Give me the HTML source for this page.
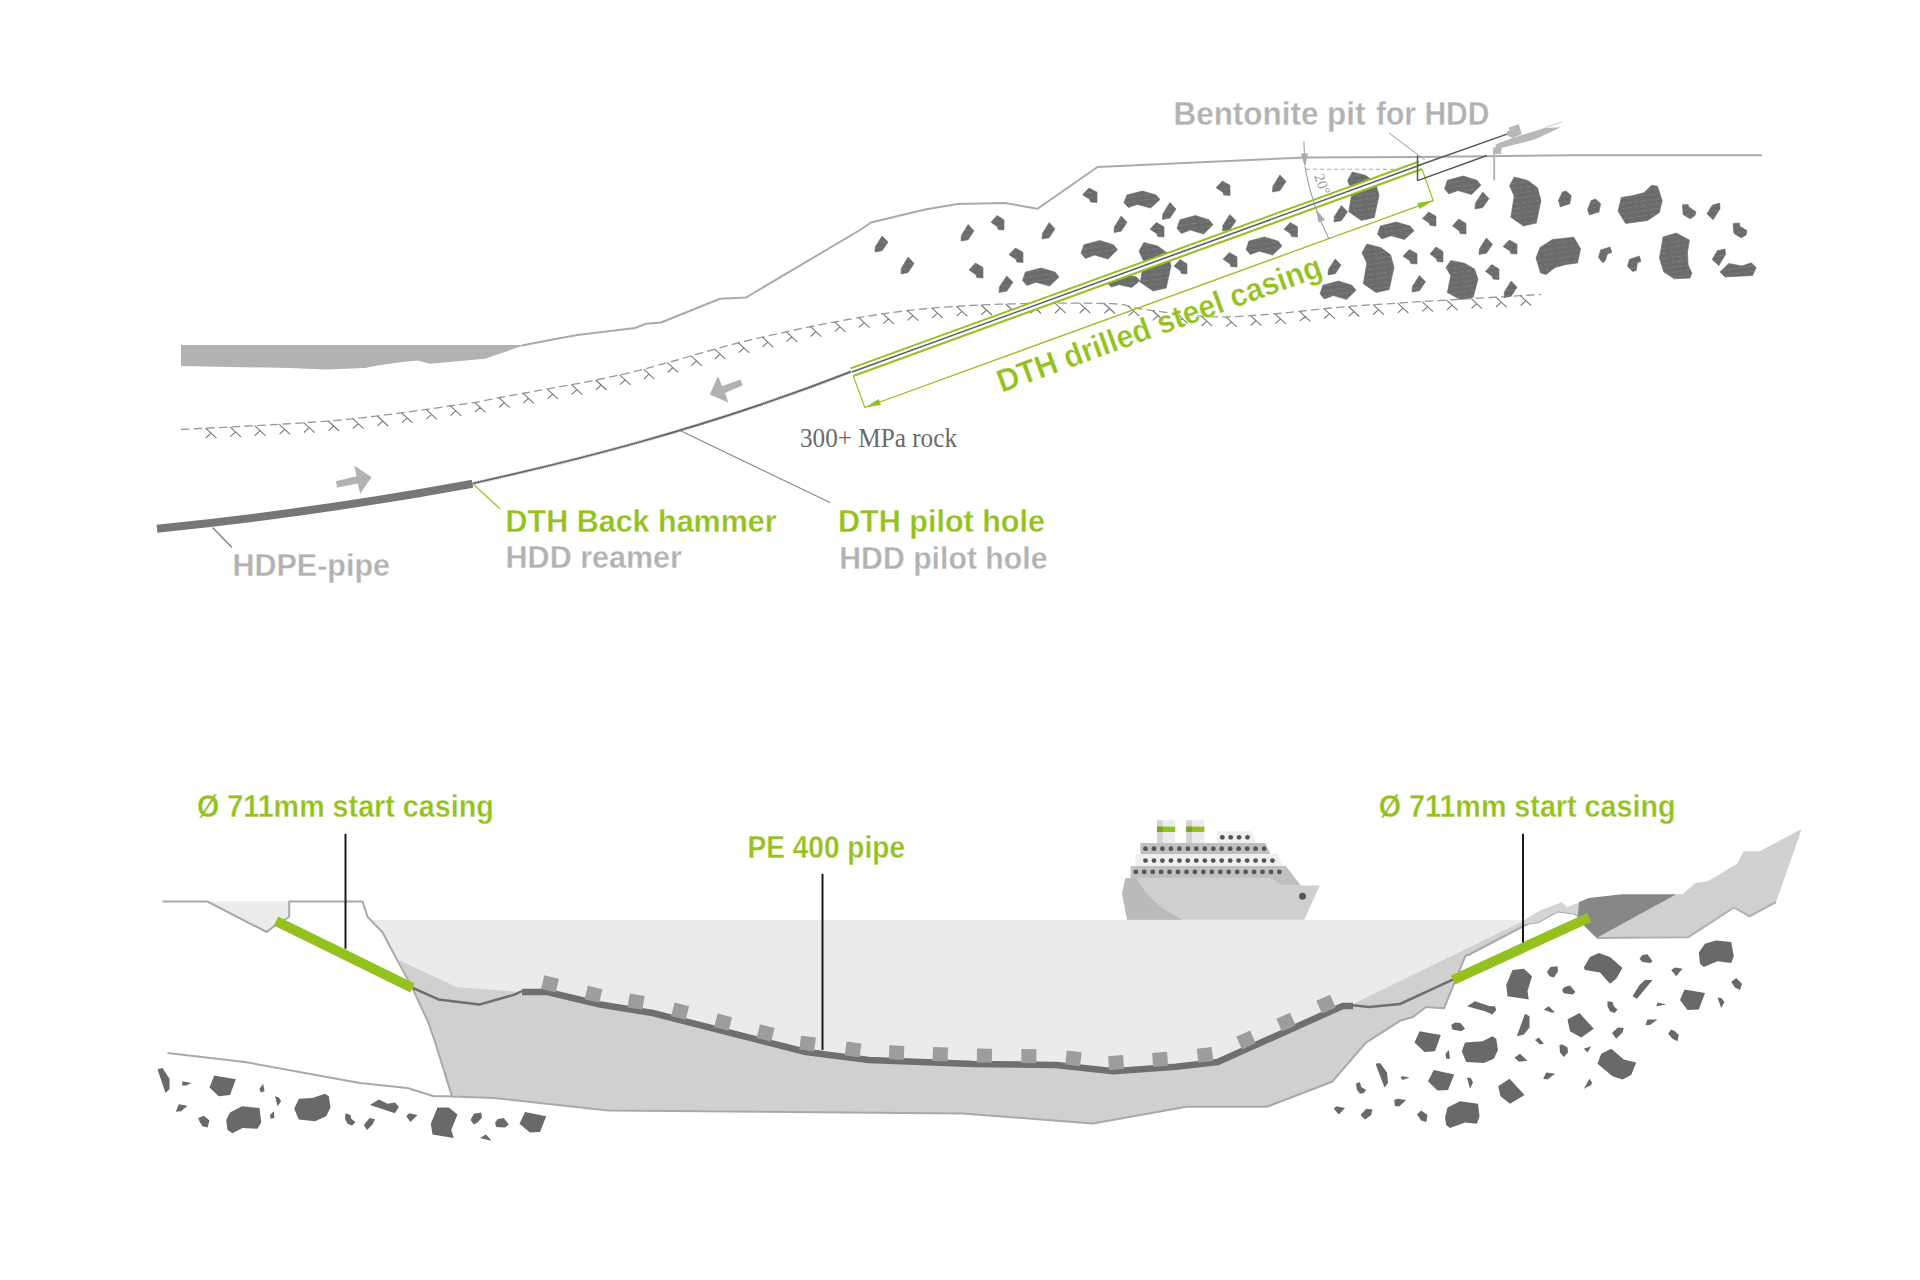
<!DOCTYPE html>
<html><head><meta charset="utf-8"><style>
html,body{margin:0;padding:0;background:#fff;}
svg{display:block;}
</style></head><body>
<svg width="1920" height="1280" viewBox="0 0 1920 1280">
<rect width="1920" height="1280" fill="#fff"/>
<polygon points="181.0,345.0 525.0,345.0 485.0,358.8 430.0,363.8 417.5,360.5 402.5,362.0 377.5,365.5 365.0,368.0 325.0,369.5 290.0,368.0 181.0,366.0" fill="#b2b2b2" />
<polyline points="522.0,345.5 550.0,340.0 577.5,335.0 635.0,328.0 646.0,323.8 661.0,322.5 720.0,298.8 746.0,297.5 860.0,230.0 871.0,222.5 925.0,209.5 957.5,204.0 1005.0,203.0 1037.5,208.8 1097.5,167.0 1305.0,157.5 1418.0,157.0 1570.0,155.3 1762.0,155.3" fill="none" stroke="#aaaaaa" stroke-width="2" stroke-linejoin="round" />
<polyline points="181.0,429.5 188.8,429.1 198.7,428.5 210.4,428.0 223.5,427.3 237.7,426.6 252.7,425.8 268.1,424.9 283.6,424.0 298.9,423.1 313.6,422.1 327.4,421.1 340.0,420.0 351.9,418.9 363.8,417.6 375.8,416.2 387.5,414.7 399.1,413.2 410.2,411.7 421.0,410.2 431.3,408.7 440.9,407.3 449.8,406.0 457.8,404.8 465.0,403.8 470.8,402.9 475.0,402.3 478.0,401.9 480.0,401.6 481.4,401.3 482.5,401.1 483.6,400.8 485.0,400.5 487.0,400.1 490.0,399.4 494.2,398.6 500.0,397.5 507.3,396.2 515.6,394.7 524.9,393.0 535.0,391.2 545.7,389.4 556.9,387.3 568.4,385.2 580.0,383.1 591.6,380.8 603.1,378.5 614.3,376.1 625.0,373.8 635.4,371.3 645.8,368.6 656.2,365.8 666.7,362.9 677.1,360.0 687.5,357.0 697.9,353.9 708.3,351.0 718.8,348.1 729.2,345.2 739.6,342.5 750.0,340.0 760.5,337.6 771.1,335.2 781.7,332.8 792.4,330.5 803.1,328.2 813.8,326.0 824.3,323.9 834.8,321.9 845.2,320.0 855.3,318.2 865.3,316.5 875.0,315.0 884.4,313.6 893.4,312.4 902.2,311.2 910.7,310.2 919.1,309.3 927.4,308.5 935.8,307.8 944.2,307.1 952.7,306.6 961.5,306.0 970.6,305.5 980.0,305.0 990.1,304.6 1000.8,304.2 1012.2,303.9 1023.8,303.6 1035.6,303.4 1047.4,303.3 1058.9,303.2 1070.0,303.2 1080.4,303.2 1090.0,303.2 1098.6,303.4 1106.0,303.5 1112.0,303.7 1116.7,304.0 1120.4,304.3 1123.1,304.7 1125.3,305.2 1127.1,305.7 1128.6,306.2 1130.2,306.7 1132.0,307.3 1134.3,307.9 1137.2,308.4 1141.0,309.0 1145.6,309.6 1150.6,310.3 1156.0,311.0 1161.7,311.8 1167.7,312.6 1173.8,313.4 1180.0,314.1 1186.2,314.8 1192.4,315.5 1198.5,316.0 1204.4,316.4 1210.0,316.7 1215.4,316.9 1220.5,316.9 1225.5,316.9 1230.4,316.8 1235.2,316.6 1240.1,316.4 1245.0,316.1 1250.1,315.7 1255.3,315.3 1260.7,314.9 1266.4,314.5 1272.5,314.0 1278.6,313.5 1284.6,313.0 1290.4,312.4 1296.4,311.7 1302.5,311.0 1308.8,310.3 1315.6,309.6 1323.0,308.8 1331.0,308.0 1339.7,307.2 1349.4,306.4 1360.0,305.6 1372.4,304.7 1386.9,303.8 1402.9,302.8 1420.1,301.7 1438.0,300.6 1456.0,299.5 1473.7,298.5 1490.6,297.5 1506.3,296.6 1520.2,295.7 1532.0,295.0 1541.0,294.5" fill="none" stroke="#9a9a9a" stroke-width="1.3" stroke-linejoin="round" stroke-dasharray="8.5 4.2"/>
<defs><pattern id="rt" width="14" height="5" patternUnits="userSpaceOnUse" patternTransform="rotate(-8)"><path d="M0,2.5h6M8.5,2.5h4" stroke="#868787" stroke-width="0.6"/></pattern></defs><g fill="#6a6b6b" stroke="#6a6b6b" stroke-width="0.6"><polygon points="875.0,252.0 875.4,246.6 882.1,236.0 888.0,242.1 882.1,250.7"/><polygon points="901.0,274.0 901.4,268.2 908.1,257.0 914.0,263.5 908.1,272.6"/><polygon points="961.0,241.0 961.4,235.4 968.1,224.5 974.0,230.8 968.1,239.7"/><polygon points="991.0,222.2 997.0,215.5 1004.0,219.8 1004.0,230.0 998.3,229.6 997.4,226.8"/><polygon points="969.0,269.9 975.4,263.0 983.0,267.5 983.0,278.0 976.8,277.6 975.9,274.7"/><polygon points="1009.0,254.7 1015.4,248.0 1023.0,252.3 1023.0,262.5 1016.8,262.1 1015.9,259.3"/><polygon points="999.0,292.5 999.4,286.9 1006.7,276.0 1013.0,282.3 1006.7,291.2"/><polygon points="1022.5,280.4 1025.4,272.1 1041.1,268.0 1055.0,272.1 1059.0,277.0 1049.5,286.0 1036.0,282.2 1026.9,285.5"/><polygon points="1042.0,239.0 1042.4,233.4 1049.2,222.5 1055.0,228.8 1049.2,237.7"/><polygon points="1081.0,253.3 1083.9,244.8 1099.6,240.5 1113.5,244.8 1117.5,249.8 1108.0,259.0 1094.5,255.1 1085.4,258.4"/><polygon points="1082.5,194.7 1089.2,188.0 1097.0,192.3 1097.0,202.5 1090.6,202.1 1089.6,199.3"/><polygon points="1114.0,232.5 1114.4,226.9 1121.2,216.0 1127.0,222.3 1121.2,231.2"/><polygon points="1124.0,202.7 1126.9,194.9 1142.4,191.0 1156.0,194.9 1160.0,199.5 1150.6,208.0 1137.3,204.4 1128.3,207.5"/><polygon points="1107.5,283.3 1110.1,277.1 1124.1,274.0 1136.4,277.1 1140.0,280.8 1131.5,287.5 1119.5,284.7 1111.4,287.1"/><polygon points="1143.8,242.5 1157.6,245.9 1167.5,253.2 1171.0,265.8 1166.2,288.1 1153.1,291.0 1140.3,282.3 1143.8,261.4 1139.0,251.2"/><polygon points="1150.0,229.2 1156.4,222.5 1164.0,226.8 1164.0,237.0 1157.8,236.6 1156.9,233.8"/><polygon points="1162.5,219.5 1162.9,213.7 1169.9,202.5 1176.0,209.0 1169.9,218.1"/><polygon points="1174.0,266.2 1180.0,259.5 1187.0,263.9 1187.0,274.0 1181.3,273.6 1180.4,270.8"/><polygon points="1177.0,228.3 1179.9,219.8 1195.4,215.5 1209.0,219.8 1213.0,224.8 1203.6,234.0 1190.3,230.1 1181.3,233.4"/><polygon points="1216.0,187.7 1222.4,181.0 1230.0,185.3 1230.0,195.5 1223.8,195.1 1222.9,192.3"/><polygon points="1222.5,231.0 1222.9,225.4 1229.9,214.5 1236.0,220.8 1229.9,229.7"/><polygon points="1223.0,259.2 1229.4,252.5 1237.0,256.9 1237.0,267.0 1230.8,266.6 1229.9,263.8"/><polygon points="1246.0,249.4 1248.9,241.1 1264.4,237.0 1278.0,241.1 1282.0,246.0 1272.6,255.0 1259.3,251.2 1250.3,254.5"/><polygon points="1272.5,192.0 1272.9,186.2 1279.9,175.0 1286.0,181.5 1279.9,190.6"/><polygon points="1284.0,229.2 1290.2,222.5 1297.5,226.8 1297.5,237.0 1291.6,236.6 1290.6,233.8"/><polygon points="1352.2,172.0 1365.8,175.4 1375.5,182.7 1379.0,195.3 1374.3,217.6 1361.4,220.5 1348.8,211.8 1352.2,190.9 1347.5,180.7"/><polygon points="1334.0,222.0 1334.4,216.4 1341.4,205.5 1347.5,211.8 1341.4,220.7"/><polygon points="1444.5,188.8 1447.4,180.3 1463.1,176.0 1477.0,180.3 1481.0,185.2 1471.5,194.5 1458.0,190.6 1448.9,193.9"/><polygon points="1475.0,209.0 1475.4,203.2 1482.7,192.0 1489.0,198.5 1482.7,207.6"/><polygon points="1514.2,177.0 1527.8,180.4 1537.5,187.8 1541.0,200.5 1536.3,223.1 1523.4,226.0 1510.8,217.2 1514.2,196.1 1509.5,185.8"/><polygon points="1558.1,201.2 1562.5,191.9 1566.2,191.0 1571.2,195.6 1569.8,203.8 1560.0,206.9 1559.4,202.5"/><polygon points="1587.5,209.4 1591.2,200.6 1595.6,199.0 1600.6,203.8 1599.0,211.9 1589.4,215.0"/><polygon points="1618.1,211.2 1621.2,197.5 1633.1,195.6 1643.8,192.8 1651.9,185.2 1657.5,186.2 1662.2,200.6 1659.4,212.5 1647.5,220.6 1625.6,223.5"/><polygon points="1682.5,204.8 1688.1,204.4 1688.8,206.9 1696.0,211.9 1695.0,215.6 1690.0,218.8 1683.1,214.4"/><polygon points="1706.9,213.8 1712.5,205.0 1719.8,203.1 1720.0,208.8 1713.1,219.8"/><polygon points="1733.1,223.5 1739.4,223.1 1739.8,226.2 1746.9,230.6 1746.2,235.0 1741.2,237.8 1734.0,233.5"/><polygon points="1422.5,218.4 1428.7,212.0 1436.0,216.2 1436.0,226.0 1430.1,225.6 1429.1,222.9"/><polygon points="1452.5,225.9 1458.7,219.0 1466.0,223.5 1466.0,234.0 1460.1,233.6 1459.1,230.7"/><polygon points="1377.5,234.1 1380.4,226.0 1396.1,222.0 1410.0,226.0 1414.0,230.8 1404.5,239.5 1391.0,235.8 1381.9,239.0"/><polygon points="1328.0,275.0 1328.4,269.6 1335.2,259.0 1341.0,265.1 1335.2,273.7"/><polygon points="1366.8,244.0 1380.6,247.4 1390.5,254.7 1394.0,267.3 1389.2,289.6 1376.1,292.5 1363.3,283.8 1366.8,262.9 1362.0,252.7"/><polygon points="1320.0,293.8 1322.9,285.3 1338.4,281.0 1352.0,285.3 1356.0,290.2 1346.6,299.5 1333.3,295.6 1324.3,298.9"/><polygon points="1403.0,256.2 1409.4,249.5 1417.0,253.8 1417.0,264.0 1410.8,263.6 1409.9,260.8"/><polygon points="1412.0,292.0 1412.4,286.4 1419.4,275.5 1425.5,281.8 1419.4,290.7"/><polygon points="1430.0,253.9 1436.0,247.0 1443.0,251.5 1443.0,262.0 1437.3,261.6 1436.4,258.7"/><polygon points="1479.0,254.5 1479.4,248.9 1486.4,238.0 1492.5,244.3 1486.4,253.2"/><polygon points="1503.0,246.4 1509.4,240.0 1517.0,244.2 1517.0,254.0 1510.8,253.6 1509.9,250.9"/><polygon points="1450.8,260.5 1464.6,263.2 1474.5,269.1 1478.0,279.2 1473.2,297.2 1460.1,299.5 1447.3,292.5 1450.8,275.7 1446.0,267.5"/><polygon points="1485.5,271.4 1491.7,264.5 1499.0,269.0 1499.0,279.5 1493.1,279.1 1492.1,276.2"/><polygon points="1504.0,297.5 1504.4,291.9 1511.2,281.0 1517.0,287.3 1511.2,296.2"/><polygon points="1536.0,258.0 1540.0,247.5 1552.5,239.4 1573.8,237.2 1580.6,248.8 1577.5,263.1 1566.2,264.4 1555.0,267.5 1546.2,274.4 1540.6,273.1"/><polygon points="1598.5,257.5 1600.6,250.0 1610.0,246.9 1611.9,252.5 1607.5,253.8 1605.0,261.2 1602.5,262.5"/><polygon points="1627.5,266.2 1629.4,259.4 1639.4,256.0 1641.0,261.5 1637.5,262.5 1636.2,270.6 1632.5,271.5"/><polygon points="1663.1,236.9 1676.2,233.1 1689.4,240.0 1687.5,252.5 1688.1,265.0 1691.9,273.1 1690.0,278.1 1674.4,278.8 1663.8,271.9 1659.4,258.1"/><polygon points="1712.2,259.4 1717.5,250.6 1725.0,249.0 1725.6,254.4 1718.8,265.6"/><polygon points="1720.0,271.9 1728.8,263.5 1741.9,266.0 1751.2,262.8 1756.2,267.5 1752.5,275.6 1725.0,276.9"/></g><g fill="url(#rt)"><polygon points="875.0,252.0 875.4,246.6 882.1,236.0 888.0,242.1 882.1,250.7"/><polygon points="901.0,274.0 901.4,268.2 908.1,257.0 914.0,263.5 908.1,272.6"/><polygon points="961.0,241.0 961.4,235.4 968.1,224.5 974.0,230.8 968.1,239.7"/><polygon points="991.0,222.2 997.0,215.5 1004.0,219.8 1004.0,230.0 998.3,229.6 997.4,226.8"/><polygon points="969.0,269.9 975.4,263.0 983.0,267.5 983.0,278.0 976.8,277.6 975.9,274.7"/><polygon points="1009.0,254.7 1015.4,248.0 1023.0,252.3 1023.0,262.5 1016.8,262.1 1015.9,259.3"/><polygon points="999.0,292.5 999.4,286.9 1006.7,276.0 1013.0,282.3 1006.7,291.2"/><polygon points="1022.5,280.4 1025.4,272.1 1041.1,268.0 1055.0,272.1 1059.0,277.0 1049.5,286.0 1036.0,282.2 1026.9,285.5"/><polygon points="1042.0,239.0 1042.4,233.4 1049.2,222.5 1055.0,228.8 1049.2,237.7"/><polygon points="1081.0,253.3 1083.9,244.8 1099.6,240.5 1113.5,244.8 1117.5,249.8 1108.0,259.0 1094.5,255.1 1085.4,258.4"/><polygon points="1082.5,194.7 1089.2,188.0 1097.0,192.3 1097.0,202.5 1090.6,202.1 1089.6,199.3"/><polygon points="1114.0,232.5 1114.4,226.9 1121.2,216.0 1127.0,222.3 1121.2,231.2"/><polygon points="1124.0,202.7 1126.9,194.9 1142.4,191.0 1156.0,194.9 1160.0,199.5 1150.6,208.0 1137.3,204.4 1128.3,207.5"/><polygon points="1107.5,283.3 1110.1,277.1 1124.1,274.0 1136.4,277.1 1140.0,280.8 1131.5,287.5 1119.5,284.7 1111.4,287.1"/><polygon points="1143.8,242.5 1157.6,245.9 1167.5,253.2 1171.0,265.8 1166.2,288.1 1153.1,291.0 1140.3,282.3 1143.8,261.4 1139.0,251.2"/><polygon points="1150.0,229.2 1156.4,222.5 1164.0,226.8 1164.0,237.0 1157.8,236.6 1156.9,233.8"/><polygon points="1162.5,219.5 1162.9,213.7 1169.9,202.5 1176.0,209.0 1169.9,218.1"/><polygon points="1174.0,266.2 1180.0,259.5 1187.0,263.9 1187.0,274.0 1181.3,273.6 1180.4,270.8"/><polygon points="1177.0,228.3 1179.9,219.8 1195.4,215.5 1209.0,219.8 1213.0,224.8 1203.6,234.0 1190.3,230.1 1181.3,233.4"/><polygon points="1216.0,187.7 1222.4,181.0 1230.0,185.3 1230.0,195.5 1223.8,195.1 1222.9,192.3"/><polygon points="1222.5,231.0 1222.9,225.4 1229.9,214.5 1236.0,220.8 1229.9,229.7"/><polygon points="1223.0,259.2 1229.4,252.5 1237.0,256.9 1237.0,267.0 1230.8,266.6 1229.9,263.8"/><polygon points="1246.0,249.4 1248.9,241.1 1264.4,237.0 1278.0,241.1 1282.0,246.0 1272.6,255.0 1259.3,251.2 1250.3,254.5"/><polygon points="1272.5,192.0 1272.9,186.2 1279.9,175.0 1286.0,181.5 1279.9,190.6"/><polygon points="1284.0,229.2 1290.2,222.5 1297.5,226.8 1297.5,237.0 1291.6,236.6 1290.6,233.8"/><polygon points="1352.2,172.0 1365.8,175.4 1375.5,182.7 1379.0,195.3 1374.3,217.6 1361.4,220.5 1348.8,211.8 1352.2,190.9 1347.5,180.7"/><polygon points="1334.0,222.0 1334.4,216.4 1341.4,205.5 1347.5,211.8 1341.4,220.7"/><polygon points="1444.5,188.8 1447.4,180.3 1463.1,176.0 1477.0,180.3 1481.0,185.2 1471.5,194.5 1458.0,190.6 1448.9,193.9"/><polygon points="1475.0,209.0 1475.4,203.2 1482.7,192.0 1489.0,198.5 1482.7,207.6"/><polygon points="1514.2,177.0 1527.8,180.4 1537.5,187.8 1541.0,200.5 1536.3,223.1 1523.4,226.0 1510.8,217.2 1514.2,196.1 1509.5,185.8"/><polygon points="1558.1,201.2 1562.5,191.9 1566.2,191.0 1571.2,195.6 1569.8,203.8 1560.0,206.9 1559.4,202.5"/><polygon points="1587.5,209.4 1591.2,200.6 1595.6,199.0 1600.6,203.8 1599.0,211.9 1589.4,215.0"/><polygon points="1618.1,211.2 1621.2,197.5 1633.1,195.6 1643.8,192.8 1651.9,185.2 1657.5,186.2 1662.2,200.6 1659.4,212.5 1647.5,220.6 1625.6,223.5"/><polygon points="1682.5,204.8 1688.1,204.4 1688.8,206.9 1696.0,211.9 1695.0,215.6 1690.0,218.8 1683.1,214.4"/><polygon points="1706.9,213.8 1712.5,205.0 1719.8,203.1 1720.0,208.8 1713.1,219.8"/><polygon points="1733.1,223.5 1739.4,223.1 1739.8,226.2 1746.9,230.6 1746.2,235.0 1741.2,237.8 1734.0,233.5"/><polygon points="1422.5,218.4 1428.7,212.0 1436.0,216.2 1436.0,226.0 1430.1,225.6 1429.1,222.9"/><polygon points="1452.5,225.9 1458.7,219.0 1466.0,223.5 1466.0,234.0 1460.1,233.6 1459.1,230.7"/><polygon points="1377.5,234.1 1380.4,226.0 1396.1,222.0 1410.0,226.0 1414.0,230.8 1404.5,239.5 1391.0,235.8 1381.9,239.0"/><polygon points="1328.0,275.0 1328.4,269.6 1335.2,259.0 1341.0,265.1 1335.2,273.7"/><polygon points="1366.8,244.0 1380.6,247.4 1390.5,254.7 1394.0,267.3 1389.2,289.6 1376.1,292.5 1363.3,283.8 1366.8,262.9 1362.0,252.7"/><polygon points="1320.0,293.8 1322.9,285.3 1338.4,281.0 1352.0,285.3 1356.0,290.2 1346.6,299.5 1333.3,295.6 1324.3,298.9"/><polygon points="1403.0,256.2 1409.4,249.5 1417.0,253.8 1417.0,264.0 1410.8,263.6 1409.9,260.8"/><polygon points="1412.0,292.0 1412.4,286.4 1419.4,275.5 1425.5,281.8 1419.4,290.7"/><polygon points="1430.0,253.9 1436.0,247.0 1443.0,251.5 1443.0,262.0 1437.3,261.6 1436.4,258.7"/><polygon points="1479.0,254.5 1479.4,248.9 1486.4,238.0 1492.5,244.3 1486.4,253.2"/><polygon points="1503.0,246.4 1509.4,240.0 1517.0,244.2 1517.0,254.0 1510.8,253.6 1509.9,250.9"/><polygon points="1450.8,260.5 1464.6,263.2 1474.5,269.1 1478.0,279.2 1473.2,297.2 1460.1,299.5 1447.3,292.5 1450.8,275.7 1446.0,267.5"/><polygon points="1485.5,271.4 1491.7,264.5 1499.0,269.0 1499.0,279.5 1493.1,279.1 1492.1,276.2"/><polygon points="1504.0,297.5 1504.4,291.9 1511.2,281.0 1517.0,287.3 1511.2,296.2"/><polygon points="1536.0,258.0 1540.0,247.5 1552.5,239.4 1573.8,237.2 1580.6,248.8 1577.5,263.1 1566.2,264.4 1555.0,267.5 1546.2,274.4 1540.6,273.1"/><polygon points="1598.5,257.5 1600.6,250.0 1610.0,246.9 1611.9,252.5 1607.5,253.8 1605.0,261.2 1602.5,262.5"/><polygon points="1627.5,266.2 1629.4,259.4 1639.4,256.0 1641.0,261.5 1637.5,262.5 1636.2,270.6 1632.5,271.5"/><polygon points="1663.1,236.9 1676.2,233.1 1689.4,240.0 1687.5,252.5 1688.1,265.0 1691.9,273.1 1690.0,278.1 1674.4,278.8 1663.8,271.9 1659.4,258.1"/><polygon points="1712.2,259.4 1717.5,250.6 1725.0,249.0 1725.6,254.4 1718.8,265.6"/><polygon points="1720.0,271.9 1728.8,263.5 1741.9,266.0 1751.2,262.8 1756.2,267.5 1752.5,275.6 1725.0,276.9"/></g>
<path d="M205.6,428.2l10.8,10 M211.0,433.2l-5.2,4.8 M230.1,426.9l10.8,10 M235.5,431.9l-5.2,4.8 M254.7,425.7l10.8,10 M260.1,430.7l-5.2,4.8 M279.3,424.3l10.8,10 M284.7,429.3l-5.2,4.8 M303.8,422.7l10.8,10 M309.2,427.7l-5.2,4.8 M328.3,421.0l10.8,10 M333.7,426.0l-5.2,4.8 M352.8,418.7l10.8,10 M358.2,423.7l-5.2,4.8 M377.3,416.0l10.8,10 M382.7,421.0l-5.2,4.8 M401.7,412.8l10.8,10 M407.1,417.8l-5.2,4.8 M426.1,409.4l10.8,10 M431.5,414.4l-5.2,4.8 M450.4,405.9l10.8,10 M455.8,410.9l-5.2,4.8 M474.7,402.4l10.8,10 M480.1,407.4l-5.2,4.8 M498.9,397.7l10.8,10 M504.3,402.7l-5.2,4.8 M523.1,393.3l10.8,10 M528.5,398.3l-5.2,4.8 M547.3,389.1l10.8,10 M552.7,394.1l-5.2,4.8 M571.5,384.6l10.8,10 M576.9,389.6l-5.2,4.8 M595.7,380.0l10.8,10 M601.1,385.0l-5.2,4.8 M619.7,374.9l10.8,10 M625.1,379.9l-5.2,4.8 M643.7,369.2l10.8,10 M649.1,374.2l-5.2,4.8 M667.4,362.7l10.8,10 M672.8,367.7l-5.2,4.8 M691.1,355.9l10.8,10 M696.5,360.9l-5.2,4.8 M714.7,349.2l10.8,10 M720.1,354.2l-5.2,4.8 M738.5,342.8l10.8,10 M743.9,347.8l-5.2,4.8 M762.4,337.1l10.8,10 M767.8,342.1l-5.2,4.8 M786.4,331.8l10.8,10 M791.8,336.8l-5.2,4.8 M810.5,326.7l10.8,10 M815.9,331.7l-5.2,4.8 M834.6,321.9l10.8,10 M840.0,326.9l-5.2,4.8 M858.8,317.6l10.8,10 M864.2,322.6l-5.2,4.8 M883.1,313.8l10.8,10 M888.5,318.8l-5.2,4.8 M907.5,310.6l10.8,10 M912.9,315.6l-5.2,4.8 M932.0,308.1l10.8,10 M937.4,313.1l-5.2,4.8 M956.5,306.3l10.8,10 M961.9,311.3l-5.2,4.8 M981.1,305.0l10.8,10 M986.5,310.0l-5.2,4.8 M1005.7,304.0l10.8,10 M1011.1,309.0l-5.2,4.8 M1030.3,303.5l10.8,10 M1035.7,308.5l-5.2,4.8 M1054.9,303.2l10.8,10 M1060.3,308.2l-5.2,4.8 M1079.5,303.2l10.8,10 M1084.9,308.2l-5.2,4.8 M1104.1,303.5l10.8,10 M1109.5,308.5l-5.2,4.8 M1128.4,306.1l10.8,10 M1133.8,311.1l-5.2,4.8 M1152.6,310.5l10.8,10 M1158.0,315.5l-5.2,4.8 M1177.0,313.7l10.8,10 M1182.4,318.7l-5.2,4.8 M1201.4,316.2l10.8,10 M1206.8,321.2l-5.2,4.8 M1226.0,316.9l10.8,10 M1231.4,321.9l-5.2,4.8 M1250.6,315.7l10.8,10 M1256.0,320.7l-5.2,4.8 M1275.1,313.8l10.8,10 M1280.5,318.8l-5.2,4.8 M1299.6,311.4l10.8,10 M1305.0,316.4l-5.2,4.8 M1324.0,308.7l10.8,10 M1329.4,313.7l-5.2,4.8 M1348.5,306.5l10.8,10 M1353.9,311.5l-5.2,4.8 M1373.1,304.7l10.8,10 M1378.5,309.7l-5.2,4.8 M1397.6,303.1l10.8,10 M1403.0,308.1l-5.2,4.8 M1422.2,301.6l10.8,10 M1427.6,306.6l-5.2,4.8 M1446.7,300.1l10.8,10 M1452.1,305.1l-5.2,4.8 M1471.3,298.6l10.8,10 M1476.7,303.6l-5.2,4.8 M1495.8,297.2l10.8,10 M1501.2,302.2l-5.2,4.8 M1520.4,295.7l10.8,10 M1525.8,300.7l-5.2,4.8" stroke="#777" stroke-width="1.1" fill="none"/>
<path d="M157,528.8 Q320,512 472.5,483.7" stroke="#777777" stroke-width="8" fill="none"/>
<path d="M472.5,483.5 C560,464 700,431 851,371.6" stroke="#bdbdbd" stroke-width="3.4" stroke-dasharray="1.2 0.8" fill="none"/>
<path d="M472.5,483.5 C560,464 700,431 851,371.6" stroke="#666" stroke-width="1.7" fill="none"/>
<line x1="472.5" y1="483.5" x2="500.0" y2="508.8" stroke="#95c11f" stroke-width="1.2" />
<line x1="212.5" y1="527.5" x2="232.0" y2="547.5" stroke="#777" stroke-width="1.2" />
<line x1="680.0" y1="430.5" x2="830.0" y2="502.5" stroke="#888" stroke-width="1.2" />
<polygon points="335.9,481.2 356.6,476.3 354.3,465.5 371.5,477.3 360.2,493.7 357.8,483.5 337.3,487.6" fill="#b2b2b2" />
<polygon points="740.2,379.5 742.8,385.3 725.0,392.9 728.3,402.5 709.8,394.5 718.0,376.1 722.1,386.3" fill="#b2b2b2" />
<line x1="852.0" y1="372.2" x2="1420.5" y2="165.2" stroke="#fff" stroke-width="8" />
<line x1="850.6" y1="368.4" x2="1419.1" y2="161.5" stroke="#95c11f" stroke-width="2.0" />
<line x1="851.9" y1="372.0" x2="1420.4" y2="165.0" stroke="#5e5e66" stroke-width="1.6" />
<line x1="853.3" y1="375.9" x2="1421.9" y2="169.0" stroke="#95c11f" stroke-width="2.1" />
<line x1="853.3" y1="375.9" x2="864.8" y2="407.5" stroke="#95c11f" stroke-width="1.2" />
<line x1="1421.9" y1="169.0" x2="1433.3" y2="200.6" stroke="#95c11f" stroke-width="1.2" />
<line x1="864.8" y1="407.5" x2="1433.3" y2="200.6" stroke="#95c11f" stroke-width="1.3" />
<polygon points="864.8,407.5 878.8,399.0 881.0,405.0" fill="#95c11f" />
<polygon points="1433.3,200.6 1419.4,209.0 1417.2,203.0" fill="#95c11f" />
<line x1="1417.5" y1="155.5" x2="1417.5" y2="180.6" stroke="#555" stroke-width="1.5" />
<line x1="1417.5" y1="180.6" x2="1487.0" y2="155.5" stroke="#555" stroke-width="1.4" />
<line x1="1418.3" y1="165.5" x2="1507.0" y2="134.1" stroke="#555" stroke-width="1.4" />
<line x1="1389.0" y1="133.0" x2="1425.0" y2="160.0" stroke="#999" stroke-width="1" />
<polygon points="1495.3,144.5 1511.7,138.2 1544.5,128.1 1560.9,127.3 1534.7,139.6 1501.9,147.8 1500.8,152.7 1501.9,154.1 1493.1,154.1 1493.1,147.8 1495.9,147.3" fill="#b8b8b8" />
<polygon points="1509.0,127.6 1518.8,124.3 1521.8,134.1 1512.8,138.0 1507.3,135.8 1506.8,131.4 1509.5,130.6" fill="#b8b8b8" />
<line x1="1545.0" y1="127.6" x2="1562.0" y2="121.8" stroke="#c8c8c8" stroke-width="1" />
<line x1="1494.2" y1="154.0" x2="1494.2" y2="180.3" stroke="#b8b8b8" stroke-width="2" />
<line x1="1303.8" y1="141.3" x2="1304.6" y2="156.0" stroke="#aaa" stroke-width="1.2" />
<polygon points="1301.0,153.5 1307.8,153.5 1305.0,167.5" fill="#aaa" />
<line x1="1306.0" y1="169.3" x2="1404.0" y2="169.3" stroke="#aaa" stroke-width="1.1" stroke-dasharray="4 3"/>
<path d="M1305,167 A253.5,253.5 0 0 0 1329,239" stroke="#999" stroke-width="1.1" fill="none"/>
<polygon points="1315.5,208.5 1318.6,222.5 1325.0,220.0" fill="#aaa" />
<text x="1314" y="176" transform="rotate(70 1314 176)" font-family="Liberation Serif" font-size="15" fill="#999">20°</text>
<text x="1173.5" y="125.3" font-family="Liberation Sans" font-weight="bold" font-size="33" fill="#b2b2b2" textLength="192" lengthAdjust="spacingAndGlyphs" stroke="#fff" stroke-width="0.3" paint-order="normal" >Bentonite pit</text>
<text x="1376" y="125.3" font-family="Liberation Sans" font-weight="bold" font-size="33" fill="#b2b2b2" textLength="113.5" lengthAdjust="spacingAndGlyphs" stroke="#fff" stroke-width="0.3" paint-order="normal" >for HDD</text>
<text x="505.6" y="532.2" font-family="Liberation Sans" font-weight="bold" font-size="32" fill="#95c11f" textLength="271" lengthAdjust="spacingAndGlyphs" stroke="#fff" stroke-width="0.3" paint-order="normal" >DTH Back hammer</text>
<text x="505.6" y="567.7" font-family="Liberation Sans" font-weight="bold" font-size="32" fill="#b2b2b2" textLength="176.3" lengthAdjust="spacingAndGlyphs" stroke="#fff" stroke-width="0.3" paint-order="normal" >HDD reamer</text>
<text x="838" y="532" font-family="Liberation Sans" font-weight="bold" font-size="32" fill="#95c11f" textLength="207" lengthAdjust="spacingAndGlyphs" stroke="#fff" stroke-width="0.3" paint-order="normal" >DTH pilot hole</text>
<text x="839.25" y="568.5" font-family="Liberation Sans" font-weight="bold" font-size="32" fill="#b2b2b2" textLength="208.25" lengthAdjust="spacingAndGlyphs" stroke="#fff" stroke-width="0.3" paint-order="normal" >HDD pilot hole</text>
<text x="232.5" y="576.25" font-family="Liberation Sans" font-weight="bold" font-size="32" fill="#b2b2b2" textLength="157.5" lengthAdjust="spacingAndGlyphs" stroke="#fff" stroke-width="0.3" paint-order="normal" >HDPE-pipe</text>
<text x="800" y="446.7" font-family="Liberation Serif" font-weight="normal" font-size="26.5" fill="#6a6a6a" textLength="157" lengthAdjust="spacingAndGlyphs" >300+ MPa rock</text>
<text x="1001.7" y="392.8" transform="rotate(-20 1001.7 392.8)" font-family="Liberation Sans" font-weight="bold" font-size="32" fill="#95c11f" stroke="#fff" stroke-width="0.3" textLength="343" lengthAdjust="spacingAndGlyphs">DTH drilled steel casing</text>
<polygon points="207.3,901.5 289.2,901.5 289.2,917.0 275.0,925.4 266.7,932.0" fill="#ececec" />
<polygon points="372.0,920.0 1522.0,920.0 1521.0,922.5 1354.0,1004.0 1353.0,1006.0 1342.7,1006.0 1217.7,1062.0 1176.0,1066.7 1113.5,1071.3 1056.0,1065.0 973.0,1064.0 868.8,1060.0 806.0,1052.0 652.6,1013.0 600.0,1004.5 547.5,992.0 522.0,992.0 412.5,988.3 397.9,961.2 382.3,932.0 370.0,920.0" fill="#ebebeb" />
<polygon points="399.0,960.2 457.3,987.3 516.7,991.5 522.0,992.0 547.5,992.0 600.0,1004.5 652.6,1013.0 806.0,1052.0 868.8,1060.0 973.0,1064.0 1056.0,1065.0 1113.5,1071.3 1176.0,1066.7 1217.7,1062.0 1342.7,1006.0 1353.0,1006.0 1354.6,1003.2 1520.8,922.3 1528.0,923.8 1468.3,955.0 1465.4,955.8 1444.0,1008.3 1426.0,1007.0 1413.0,1017.0 1400.0,1020.8 1366.0,1042.7 1332.0,1081.8 1267.0,1106.8 1186.5,1106.8 1092.7,1123.4 962.5,1113.5 608.0,1110.4 493.8,1098.0 452.0,1096.4 434.4,1040.0 428.0,1021.7 412.5,988.3" fill="#d0d0d0" />
<polyline points="162.5,901.5 207.3,901.5 266.7,932.0 275.0,925.4 289.2,917.0 289.2,901.5 362.5,901.5 367.7,917.0 382.3,932.0 397.9,961.2 412.5,988.3 428.0,1021.7 434.4,1040.0 452.0,1096.4 493.8,1098.0 608.0,1110.4 962.5,1113.5 1092.7,1123.4 1186.5,1106.8 1267.0,1106.8 1332.0,1081.8 1366.0,1042.7 1400.0,1020.8 1413.0,1017.0 1426.0,1007.0 1444.0,1008.3 1465.4,955.8 1468.3,955.0 1528.0,923.8 1537.6,922.3 1558.0,911.4 1574.8,913.8 1579.0,916.5" fill="none" stroke="#a9a9a9" stroke-width="2" stroke-linejoin="round" />
<polyline points="167.5,1053.0 245.0,1062.0 360.0,1083.0 407.5,1088.0 433.8,1096.2 452.5,1096.2" fill="none" stroke="#a9a9a9" stroke-width="2" stroke-linejoin="round" />
<polygon points="1520.8,922.3 1539.8,910.6 1561.7,902.2 1567.5,907.0 1579.0,902.6 1579.0,916.5 1574.8,913.8 1558.0,911.4 1537.6,922.3 1528.0,923.8" fill="#d5d5d5" />
<polygon points="1676.5,894.2 1682.5,894.2 1695.4,883.1 1708.3,881.1 1737.4,863.5 1743.5,851.3 1759.7,851.3 1801.7,829.0 1776.0,902.0 1749.6,916.3 1734.0,907.5 1688.0,937.3 1596.6,938.0" fill="#d0d0d0" />
<polygon points="1579.0,902.0 1589.0,898.0 1621.6,894.2 1676.5,894.2 1596.6,938.0 1585.0,926.7 1577.6,917.0" fill="#878787" />
<polyline points="1596.6,938.0 1688.0,937.3 1734.0,907.5 1749.6,916.3 1776.0,902.0" fill="none" stroke="#b0b0b0" stroke-width="2" stroke-linejoin="round" />
<polyline points="522.0,992.0 547.5,992.0 600.0,1004.5 652.6,1013.0 806.0,1052.0 868.8,1060.0 973.0,1064.0 1056.0,1065.0 1113.5,1071.3 1176.0,1066.7 1217.7,1062.0 1342.7,1006.0 1353.0,1006.0" fill="none" stroke="#6f6f6f" stroke-width="6.5" stroke-linejoin="round" stroke-linejoin="round"/>
<polyline points="413.0,988.0 438.5,999.4 479.2,1004.6 514.6,994.6 522.0,991.0" fill="none" stroke="#6f6f6f" stroke-width="2.5" stroke-linejoin="round" />
<polyline points="1353.0,1005.2 1369.0,1007.0 1400.0,1004.0 1453.8,979.2" fill="none" stroke="#6f6f6f" stroke-width="2.5" stroke-linejoin="round" />
<rect x="542.5" y="976.9" width="15" height="14" fill="#9d9d9d" transform="rotate(13.4 550.0 983.9)"/>
<rect x="586.0" y="987.2" width="15" height="14" fill="#9d9d9d" transform="rotate(13.4 593.5 994.2)"/>
<rect x="628.6" y="994.7" width="15" height="14" fill="#9d9d9d" transform="rotate(9.2 636.1 1001.7)"/>
<rect x="672.6" y="1004.2" width="15" height="14" fill="#9d9d9d" transform="rotate(14.3 680.1 1011.2)"/>
<rect x="715.6" y="1015.2" width="15" height="14" fill="#9d9d9d" transform="rotate(14.3 723.1 1022.2)"/>
<rect x="758.1" y="1026.0" width="15" height="14" fill="#9d9d9d" transform="rotate(14.3 765.6 1033.0)"/>
<rect x="800.1" y="1036.6" width="15" height="14" fill="#9d9d9d" transform="rotate(7.3 807.6 1043.6)"/>
<rect x="845.6" y="1042.4" width="15" height="14" fill="#9d9d9d" transform="rotate(7.3 853.1 1049.4)"/>
<rect x="889.1" y="1045.6" width="15" height="14" fill="#9d9d9d" transform="rotate(2.2 896.6 1052.6)"/>
<rect x="932.8" y="1047.2" width="15" height="14" fill="#9d9d9d" transform="rotate(2.2 940.3 1054.2)"/>
<rect x="976.9" y="1048.6" width="15" height="14" fill="#9d9d9d" transform="rotate(0.7 984.4 1055.6)"/>
<rect x="1021.4" y="1049.2" width="15" height="14" fill="#9d9d9d" transform="rotate(0.7 1028.9 1056.2)"/>
<rect x="1065.9" y="1051.4" width="15" height="14" fill="#9d9d9d" transform="rotate(6.3 1073.4 1058.4)"/>
<rect x="1108.6" y="1055.6" width="15" height="14" fill="#9d9d9d" transform="rotate(-4.3 1116.1 1062.6)"/>
<rect x="1152.6" y="1052.4" width="15" height="14" fill="#9d9d9d" transform="rotate(-4.3 1160.1 1059.4)"/>
<rect x="1197.5" y="1047.9" width="15" height="14" fill="#9d9d9d" transform="rotate(-6.4 1205.0 1054.9)"/>
<rect x="1238.5" y="1033.0" width="15" height="14" fill="#9d9d9d" transform="rotate(-24.1 1246.0 1040.0)"/>
<rect x="1278.5" y="1015.1" width="15" height="14" fill="#9d9d9d" transform="rotate(-24.1 1286.0 1022.1)"/>
<rect x="1318.5" y="997.2" width="15" height="14" fill="#9d9d9d" transform="rotate(-24.1 1326.0 1004.2)"/>
<line x1="276.0" y1="921.0" x2="412.5" y2="988.0" stroke="#95c11f" stroke-width="10" />
<line x1="1453.0" y1="980.0" x2="1589.0" y2="917.5" stroke="#95c11f" stroke-width="10" />
<line x1="345.5" y1="833.8" x2="345.5" y2="948.8" stroke="#1a1a1a" stroke-width="2" />
<line x1="822.5" y1="873.8" x2="822.5" y2="1050.0" stroke="#1a1a1a" stroke-width="2" />
<line x1="1523.0" y1="833.8" x2="1523.0" y2="942.5" stroke="#1a1a1a" stroke-width="2" />
<polygon points="1125.5,878.2 1269.8,878.2 1281.9,885.6 1319.7,885.6 1304.2,919.8 1127.2,919.8 1122.0,893.6" fill="#cfcfcf" />
<path d="M1125.5,878.2 L1137,878.2 Q1150,905 1183.3,919.8 L1127.2,919.8 L1122,893.6 Z" fill="#bababa"/>
<polygon points="1130.6,865.9 1285.9,865.9 1300.8,885.6 1281.9,885.6 1269.8,878.2 1130.6,878.2" fill="#c0c0c0" />
<polygon points="1135.8,854.1 1277.9,854.1 1283.0,865.9 1135.2,865.9" fill="#efefef" />
<polygon points="1140.4,843.0 1265.3,843.0 1270.4,854.1 1140.4,854.1" fill="#c0c0c0" />
<polygon points="1217.1,831.2 1251.5,831.2 1256.1,843.0 1217.1,843.0" fill="#efefef" />
<g fill="#555"><circle cx="1135.8" cy="871.9" r="2.4"/><circle cx="1144.2" cy="871.9" r="2.4"/><circle cx="1152.7" cy="871.9" r="2.4"/><circle cx="1161.1" cy="871.9" r="2.4"/><circle cx="1169.6" cy="871.9" r="2.4"/><circle cx="1178.0" cy="871.9" r="2.4"/><circle cx="1186.5" cy="871.9" r="2.4"/><circle cx="1194.9" cy="871.9" r="2.4"/><circle cx="1203.4" cy="871.9" r="2.4"/><circle cx="1211.8" cy="871.9" r="2.4"/><circle cx="1220.3" cy="871.9" r="2.4"/><circle cx="1228.7" cy="871.9" r="2.4"/><circle cx="1237.2" cy="871.9" r="2.4"/><circle cx="1245.6" cy="871.9" r="2.4"/><circle cx="1254.1" cy="871.9" r="2.4"/><circle cx="1262.5" cy="871.9" r="2.4"/><circle cx="1271.0" cy="871.9" r="2.4"/><circle cx="1279.4" cy="871.9" r="2.4"/><circle cx="1145.5" cy="860.6" r="2.4"/><circle cx="1154.0" cy="860.6" r="2.4"/><circle cx="1162.4" cy="860.6" r="2.4"/><circle cx="1170.9" cy="860.6" r="2.4"/><circle cx="1179.4" cy="860.6" r="2.4"/><circle cx="1187.8" cy="860.6" r="2.4"/><circle cx="1196.3" cy="860.6" r="2.4"/><circle cx="1204.8" cy="860.6" r="2.4"/><circle cx="1213.2" cy="860.6" r="2.4"/><circle cx="1221.7" cy="860.6" r="2.4"/><circle cx="1230.2" cy="860.6" r="2.4"/><circle cx="1238.6" cy="860.6" r="2.4"/><circle cx="1247.1" cy="860.6" r="2.4"/><circle cx="1255.6" cy="860.6" r="2.4"/><circle cx="1264.0" cy="860.6" r="2.4"/><circle cx="1272.5" cy="860.6" r="2.4"/><circle cx="1145.5" cy="848.7" r="2.4"/><circle cx="1154.0" cy="848.7" r="2.4"/><circle cx="1162.4" cy="848.7" r="2.4"/><circle cx="1170.9" cy="848.7" r="2.4"/><circle cx="1179.4" cy="848.7" r="2.4"/><circle cx="1187.9" cy="848.7" r="2.4"/><circle cx="1196.3" cy="848.7" r="2.4"/><circle cx="1204.8" cy="848.7" r="2.4"/><circle cx="1213.3" cy="848.7" r="2.4"/><circle cx="1221.7" cy="848.7" r="2.4"/><circle cx="1230.2" cy="848.7" r="2.4"/><circle cx="1238.7" cy="848.7" r="2.4"/><circle cx="1247.2" cy="848.7" r="2.4"/><circle cx="1255.6" cy="848.7" r="2.4"/><circle cx="1264.1" cy="848.7" r="2.4"/><circle cx="1222.3" cy="837.3" r="2.4"/><circle cx="1230.7" cy="837.3" r="2.4"/><circle cx="1239.1" cy="837.3" r="2.4"/><circle cx="1247.5" cy="837.3" r="2.4"/><circle cx="1302.5" cy="896.2" r="3.5"/></g>
<rect x="1157" y="820.3" width="18.2" height="22.7" fill="#ececec"/>
<rect x="1157" y="820.3" width="5.7" height="22.7" fill="#d3d3d3"/>
<rect x="1157" y="826.6" width="18.2" height="5.4" fill="#95c11f"/>
<rect x="1157" y="826.6" width="5.7" height="5.4" fill="#7aa619"/>
<rect x="1186.2" y="820.3" width="18.2" height="22.7" fill="#ececec"/>
<rect x="1186.2" y="820.3" width="5.7" height="22.7" fill="#d3d3d3"/>
<rect x="1186.2" y="826.6" width="18.2" height="5.4" fill="#95c11f"/>
<rect x="1186.2" y="826.6" width="5.7" height="5.4" fill="#7aa619"/>
<g fill="#68696b"><polygon points="157.5,1069.2 162.5,1068.0 169.5,1078.8 169.5,1089.2 165.5,1093.0"/><polygon points="182.5,1081.2 191.2,1083.0 186.2,1085.5 182.0,1085.5"/><polygon points="209.5,1087.5 214.2,1075.5 235.8,1079.2 230.0,1095.0 218.8,1096.2"/><polygon points="259.5,1088.8 263.2,1083.8 264.5,1091.2 260.8,1092.5"/><polygon points="178.8,1104.2 187.5,1105.8 181.2,1111.2 175.8,1111.8"/><polygon points="198.2,1118.0 203.8,1115.8 209.5,1120.5 207.5,1127.5 202.5,1126.2 200.0,1122.5"/><polygon points="230.0,1112.5 242.0,1106.2 259.5,1108.0 261.2,1122.5 257.5,1128.8 242.5,1128.0 232.5,1133.2 227.5,1130.0 226.2,1120.0"/><polygon points="275.0,1096.2 278.8,1097.5 281.2,1101.2 277.5,1106.2"/><polygon points="270.0,1115.0 273.8,1111.2 274.5,1118.0 270.5,1118.8"/><polygon points="294.2,1108.8 298.8,1098.8 312.5,1098.0 325.0,1093.8 328.8,1096.2 330.5,1107.5 326.2,1116.2 315.0,1121.2 298.8,1119.5"/><polygon points="345.5,1113.2 350.5,1115.0 351.2,1118.8 355.5,1122.0 352.0,1125.5 347.5,1123.8 345.0,1118.8"/><polygon points="363.8,1125.0 369.5,1118.0 375.0,1119.2 372.5,1124.5 367.0,1130.0"/><polygon points="370.0,1105.0 378.8,1099.5 387.5,1103.8 395.0,1102.5 398.8,1107.0 395.0,1113.2"/><polygon points="406.2,1116.2 409.5,1113.2 417.5,1115.0 410.5,1122.0"/><polygon points="437.5,1107.5 448.8,1107.5 457.5,1114.5 451.2,1130.0 453.8,1138.0 432.5,1134.5 430.8,1123.8"/><polygon points="473.8,1113.8 481.2,1112.5 482.0,1117.5 477.5,1122.5 473.8,1124.5 470.5,1120.0"/><polygon points="480.0,1138.0 485.8,1134.5 491.2,1140.0 490.0,1140.5"/><polygon points="495.0,1123.0 497.5,1119.2 503.8,1118.0 508.8,1124.5 505.0,1127.5 496.2,1127.0"/><polygon points="525.0,1112.0 546.2,1116.2 540.0,1132.0 530.0,1132.5 519.5,1123.8"/><polygon points="1506.2,985.0 1512.5,970.0 1523.8,968.8 1532.0,976.2 1527.5,991.2 1528.8,999.5 1507.5,996.2"/><polygon points="1547.0,972.0 1550.5,967.0 1557.5,966.2 1558.0,971.2 1553.8,977.5 1549.5,976.2"/><polygon points="1583.8,967.5 1590.0,957.0 1598.8,953.0 1610.0,957.0 1622.5,968.0 1616.2,978.8 1610.0,983.8 1600.0,972.5 1585.0,970.0"/><polygon points="1639.5,958.8 1642.5,955.0 1647.5,954.2 1652.5,961.2 1650.0,963.0 1642.5,962.0"/><polygon points="1698.8,952.5 1705.0,943.8 1716.2,940.5 1731.2,942.0 1733.8,956.2 1731.2,963.0 1717.5,961.2 1703.8,967.0 1700.0,963.8"/><polygon points="1671.2,970.0 1675.0,967.5 1682.5,968.8 1676.2,976.2"/><polygon points="1731.2,982.0 1736.2,978.0 1742.0,983.8 1740.0,990.0 1735.0,987.5"/><polygon points="1632.5,996.2 1639.5,985.0 1645.0,980.0 1652.5,980.0 1637.0,998.8"/><polygon points="1562.0,990.0 1564.5,987.0 1570.0,985.5 1575.5,992.0 1572.5,994.5 1563.8,993.2"/><polygon points="1467.0,1006.2 1475.0,1001.2 1490.0,1006.2 1495.0,1006.2 1496.2,1010.0 1492.5,1014.5 1485.0,1011.2"/><polygon points="1680.0,1000.0 1684.5,989.5 1705.0,993.0 1698.8,1009.5 1687.5,1010.0"/><polygon points="1717.5,997.5 1721.2,998.0 1724.5,1002.0 1721.2,1008.0"/><polygon points="1656.2,1006.2 1657.5,1002.5 1666.2,1004.5"/><polygon points="1607.5,1001.2 1612.5,1002.0 1613.8,1006.2 1617.5,1009.5 1614.5,1013.0 1610.0,1011.2 1607.5,1006.2"/><polygon points="1543.8,1009.5 1548.8,1006.2 1555.0,1012.5 1551.2,1012.5"/><polygon points="1516.8,1036.2 1525.0,1013.8 1529.5,1016.2 1529.5,1027.5 1523.8,1034.5"/><polygon points="1451.2,1025.0 1455.0,1022.5 1460.5,1023.0 1465.0,1028.8 1461.2,1031.2 1452.5,1029.5"/><polygon points="1567.5,1019.5 1579.5,1013.0 1593.8,1028.8 1581.2,1037.5 1570.0,1031.2"/><polygon points="1645.5,1025.0 1647.5,1019.5 1657.5,1019.5 1650.0,1025.0"/><polygon points="1612.0,1033.0 1618.0,1027.5 1623.8,1028.0 1622.5,1032.5 1616.2,1038.8"/><polygon points="1668.0,1033.8 1671.2,1029.5 1675.0,1031.2 1678.8,1035.0 1677.5,1041.2 1672.5,1038.8"/><polygon points="1414.5,1042.5 1419.5,1031.2 1440.8,1035.0 1435.0,1051.2 1424.5,1052.0"/><polygon points="1461.8,1051.2 1465.0,1042.5 1482.5,1041.2 1492.5,1036.2 1496.2,1038.8 1498.0,1050.0 1493.8,1058.8 1483.8,1063.0 1466.2,1062.0"/><polygon points="1445.5,1053.8 1448.8,1050.0 1450.0,1058.8 1446.2,1058.8"/><polygon points="1535.0,1040.0 1538.8,1037.5 1543.8,1043.8 1540.0,1044.5"/><polygon points="1559.5,1045.0 1562.5,1044.5 1567.5,1047.5 1568.0,1052.5 1563.8,1057.0 1560.0,1052.5"/><polygon points="1583.8,1048.8 1587.5,1047.5 1591.2,1046.2 1587.5,1052.5"/><polygon points="1514.5,1057.5 1520.0,1053.8 1527.5,1060.8 1518.8,1061.8"/><polygon points="1597.5,1063.8 1601.2,1053.8 1611.2,1048.8 1623.8,1059.5 1636.2,1062.5 1631.2,1075.0 1622.5,1079.5 1612.5,1076.2"/><polygon points="1375.5,1063.8 1380.0,1063.0 1387.0,1072.5 1388.0,1083.0 1384.5,1087.5"/><polygon points="1400.5,1077.0 1402.5,1076.2 1409.5,1077.5 1402.5,1080.0"/><polygon points="1428.0,1081.2 1433.8,1070.0 1454.2,1074.5 1448.0,1090.0 1437.5,1090.5"/><polygon points="1467.0,1077.5 1470.8,1078.0 1473.0,1082.5 1470.0,1088.8"/><polygon points="1543.2,1078.8 1546.2,1072.5 1555.0,1073.8 1547.5,1079.5"/><polygon points="1583.8,1088.8 1589.5,1078.8 1592.0,1082.5 1591.2,1085.0"/><polygon points="1498.2,1086.2 1509.5,1078.8 1524.5,1095.0 1510.0,1103.8 1500.5,1096.2"/><polygon points="1355.8,1083.8 1360.0,1082.0 1361.2,1087.0 1366.2,1090.0 1363.8,1093.0 1360.0,1093.8 1357.0,1090.0"/><polygon points="1394.2,1100.0 1397.5,1098.8 1406.2,1100.0 1399.5,1106.2 1395.0,1106.2"/><polygon points="1333.8,1108.8 1336.2,1106.2 1345.0,1108.0 1338.8,1114.5"/><polygon points="1360.5,1115.0 1366.2,1108.8 1372.5,1109.5 1371.2,1115.0 1365.0,1119.5"/><polygon points="1417.0,1114.5 1421.2,1110.5 1427.5,1115.0 1426.2,1122.0 1421.2,1120.5"/><polygon points="1445.0,1117.5 1447.5,1107.5 1460.0,1101.2 1478.0,1103.8 1479.5,1116.2 1477.0,1123.8 1465.0,1122.5 1450.0,1128.0 1446.2,1125.0"/></g>
<text x="197" y="817" font-family="Liberation Sans" font-weight="bold" font-size="31.5" fill="#95c11f" textLength="296.75" lengthAdjust="spacingAndGlyphs" stroke="#fff" stroke-width="0.3" paint-order="normal" >Ø 711mm start casing</text>
<text x="1378.75" y="816.75" font-family="Liberation Sans" font-weight="bold" font-size="31.5" fill="#95c11f" textLength="296.75" lengthAdjust="spacingAndGlyphs" stroke="#fff" stroke-width="0.3" paint-order="normal" >Ø 711mm start casing</text>
<text x="747.5" y="858" font-family="Liberation Sans" font-weight="bold" font-size="31" fill="#95c11f" textLength="157.5" lengthAdjust="spacingAndGlyphs" stroke="#fff" stroke-width="0.3" paint-order="normal" >PE 400 pipe</text>
</svg></body></html>
